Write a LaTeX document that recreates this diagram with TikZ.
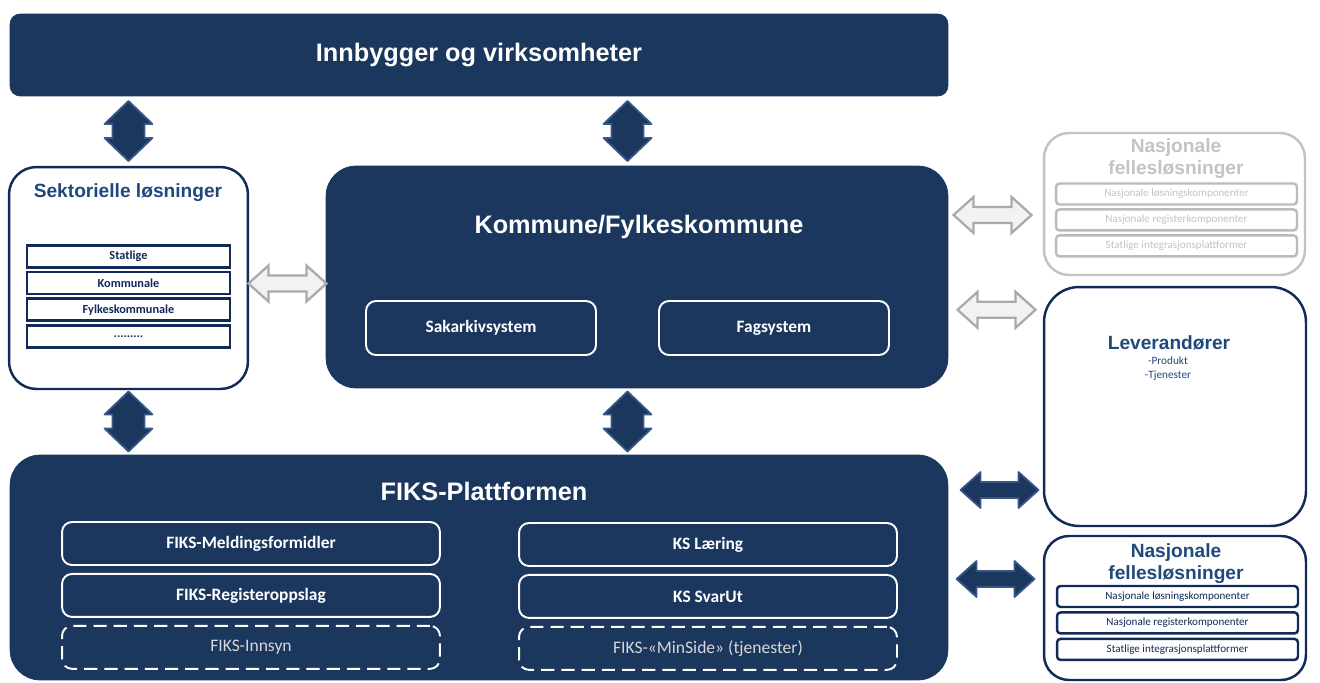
\documentclass[tikz,border=0pt]{standalone}
\usepackage{fontspec}
\setmainfont{Liberation Sans}
\newfontfamily\calibri{Carlito}
\usetikzlibrary{positioning, calc}
\definecolor{ksnavy}{RGB}{27,55,94}
\definecolor{ksline}{RGB}{18,42,88}
\definecolor{kstext}{RGB}{31,73,125}
\definecolor{arrowedge}{RGB}{55,88,135}
\definecolor{greyfill}{RGB}{242,242,242}
\definecolor{greyedge}{RGB}{170,170,170}
\definecolor{greytext}{RGB}{195,195,195}
\definecolor{dashtext}{RGB}{215,215,215}
\tikzset{
  updown/.pic={\path[pic actions] (0,-30) -- (24,-7) -- (16,-7) -- (16,7) -- (24,7) -- (0,30) -- (-24,7) -- (-16,7) -- (-16,-7) -- (-24,-7) -- cycle;},
  leftright/.pic={\path[pic actions] (-39,0) -- (-19,-18) -- (-19,-8) -- (19,-8) -- (19,-18) -- (39,0) -- (19,18) -- (19,8) -- (-19,8) -- (-19,18) -- cycle;}
}

\begin{document}
\begin{tikzpicture}[x=0.02cm, y=-0.02cm]
            \tikzstyle{block} = [rectangle, rounded corners=0.6cm, draw=ksnavy, fill=ksnavy, inner sep=0pt]
            \tikzstyle{whitebox} = [block, fill=white, draw=ksline, line width=1.4pt]
            \tikzstyle{greybox} = [block, fill=white, draw=greytext, line width=1.4pt]
            \tikzstyle{bigtitle} = [inner sep=0pt, text=white, font=\bfseries\fontsize{14.4}{17}\selectfont]
            \tikzstyle{boxtitle} = [inner sep=0pt, text=kstext, align=center, font=\bfseries\fontsize{10.9}{12.6}\selectfont]
            \tikzstyle{system} = [rectangle, rounded corners=0.2cm, draw=white, line width=1.1pt, inner sep=0pt, text=white, font=\calibri\bfseries\fontsize{9.9}{12}\selectfont]
            \tikzstyle{fiksmodule} = [system, minimum width=7.56cm, minimum height=0.86cm]
            \tikzstyle{planned} = [fiksmodule, dash pattern=on 7.5pt off 4pt, text=dashtext, font=\calibri\fontsize{10}{12}\selectfont]
            \tikzstyle{sector} = [rectangle, draw=ksline, fill=white, line width=1.5pt, inner sep=0pt, minimum width=4.06cm, minimum height=0.44cm, text=ksline, font=\calibri\bfseries\fontsize{7}{8}\selectfont]
            \tikzstyle{national} = [rectangle, rounded corners=2pt, draw=ksline, fill=white, line width=1.4pt, inner sep=0pt, minimum width=4.82cm, minimum height=0.42cm, text=ksline, font=\calibri\fontsize{6.3}{7.5}\selectfont]
            \tikzstyle{nationalgrey} = [national, draw=greyedge!80, text=greytext]
            \tikzstyle{darkarrow} = [fill=ksnavy, draw=arrowedge, line width=1pt, line join=round]
            \tikzstyle{lightarrow} = [fill=greyfill, draw=greyedge, line width=1.3pt]

            \useasboundingbox (0,0) rectangle (1320,683);

            \node[block, rounded corners=0.2cm, minimum width=18.76cm, minimum height=1.64cm, bigtitle] (innbygger) at (479,55) {Innbygger og virksomheter};

            \node[whitebox, rounded corners=0.55cm, minimum width=4.78cm, minimum height=4.44cm] (sektor) at (128.5,278) {};
            \node[boxtitle] (sektorTitle) at (128,193) {Sektorielle løsninger};
            \node[sector] (statlige) at (128.5,256.5) {Statlige};
            \node[sector, below=0.04cm of statlige] (kommunale) {Kommunale};
            \node[sector, below=0.04cm of kommunale] (fylkes) {Fylkeskommunale};
            \node[sector, below=0.04cm of fylkes] (flere) {.........};

            \node[block, minimum width=12.44cm, minimum height=4.44cm] (kommune) at (637,277) {};
            \node[bigtitle] (kommuneTitle) at (639,227) {Kommune/Fylkeskommune};
            \node[system, minimum width=4.6cm, minimum height=1.08cm] (sak) at (481,328) {Sakarkivsystem};
            \node[system, minimum width=4.6cm, minimum height=1.08cm] (fag) at (774,328) {Fagsystem};

            \node[block, minimum width=18.76cm, minimum height=4.5cm] (fiks) at (479,567.5) {};
            \node[bigtitle] (fiksTitle) at (484,491) {FIKS-Plattformen};
            \node[fiksmodule] (melding) at (251,543.5) {FIKS-Meldingsformidler};
            \node[fiksmodule, below=0.14cm of melding] (register) {FIKS-Registeroppslag};
            \node[planned, below=0.14cm of register] (innsyn) {FIKS-Innsyn};
            \node[fiksmodule] (laering) at (708,544.5) {KS Læring};
            \node[fiksmodule, below=0.14cm of laering] (svarut) {KS SvarUt};
            \node[planned, below=0.14cm of svarut] (minside) {FIKS-«MinSide» (tjenester)};

            \node[greybox, rounded corners=0.5cm, minimum width=5.22cm, minimum height=2.84cm] (nasjGrey) at (1174.5,204) {};
            \node[boxtitle, text=greytext] (nasjGreyTitle) at (1176,159) {Nasjonale\\fellesløsninger};
            \node[nationalgrey] (losningGrey) at (1176.5,194) {Nasjonale løsningskomponenter};
            \node[nationalgrey, below=0.05cm of losningGrey] (registerGrey) {Nasjonale registerkomponenter};
            \node[nationalgrey, below=0.05cm of registerGrey] (integrasjonGrey) {Statlige integrasjonsplattformer};

            \node[whitebox, rounded corners=0.7cm, minimum width=5.24cm, minimum height=4.78cm] (leverandor) at (1175,406.5) {};
            \node[boxtitle] (leverandorTitle) at (1169,343) {Leverandører};
            \node[inner sep=0pt, text=kstext, align=center, font=\calibri\fontsize{6.4}{8}\selectfont] (leverandorItems) at (1168,369) {-Produkt\\-Tjenester};

            \node[whitebox, rounded corners=0.5cm, minimum width=5.24cm, minimum height=2.88cm] (nasj) at (1175,608) {};
            \node[boxtitle] (nasjTitle) at (1176,564) {Nasjonale\\fellesløsninger};
            \node[national] (losning) at (1177.5,596.5) {Nasjonale løsningskomponenter};
            \node[national, below=0.06cm of losning] (registerNasj) {Nasjonale registerkomponenter};
            \node[national, below=0.06cm of registerNasj] (integrasjon) {Statlige integrasjonsplattformer};

            \coordinate (gapTop) at ($(innbygger.south)!0.5!(kommune.north)$);
            \coordinate (gapBottom) at ($(kommune.south)!0.5!(fiks.north)$);
            \coordinate (midColumn) at ($(sak.east)!0.5!(fag.west)$);
            \coordinate (rightColumn) at ($(kommune.east)!0.5!(leverandor.west)$);

            \pic[darkarrow] at (sektor |- gapTop) {updown};
            \pic[darkarrow] at (midColumn |- gapTop) {updown};
            \pic[darkarrow] at (sektor |- gapBottom) {updown};
            \pic[darkarrow] at (midColumn |- gapBottom) {updown};

            \pic[lightarrow] at ($(sektor.east)!0.5!(kommune.west)+(0,6)$) {leftright};
            \pic[lightarrow] at ($(rightColumn |- nasjGrey)+(-3,11)$) {leftright};
            \pic[lightarrow] at ($(rightColumn |- leverandor.north)+(1,24)$) {leftright};
            \pic[darkarrow] at ($(rightColumn |- fiksTitle)+(4,-1)$) {leftright};
            \pic[darkarrow] at ($(rightColumn |- nasj)+(0,-29)$) {leftright};

        \end{tikzpicture}
\end{document}
